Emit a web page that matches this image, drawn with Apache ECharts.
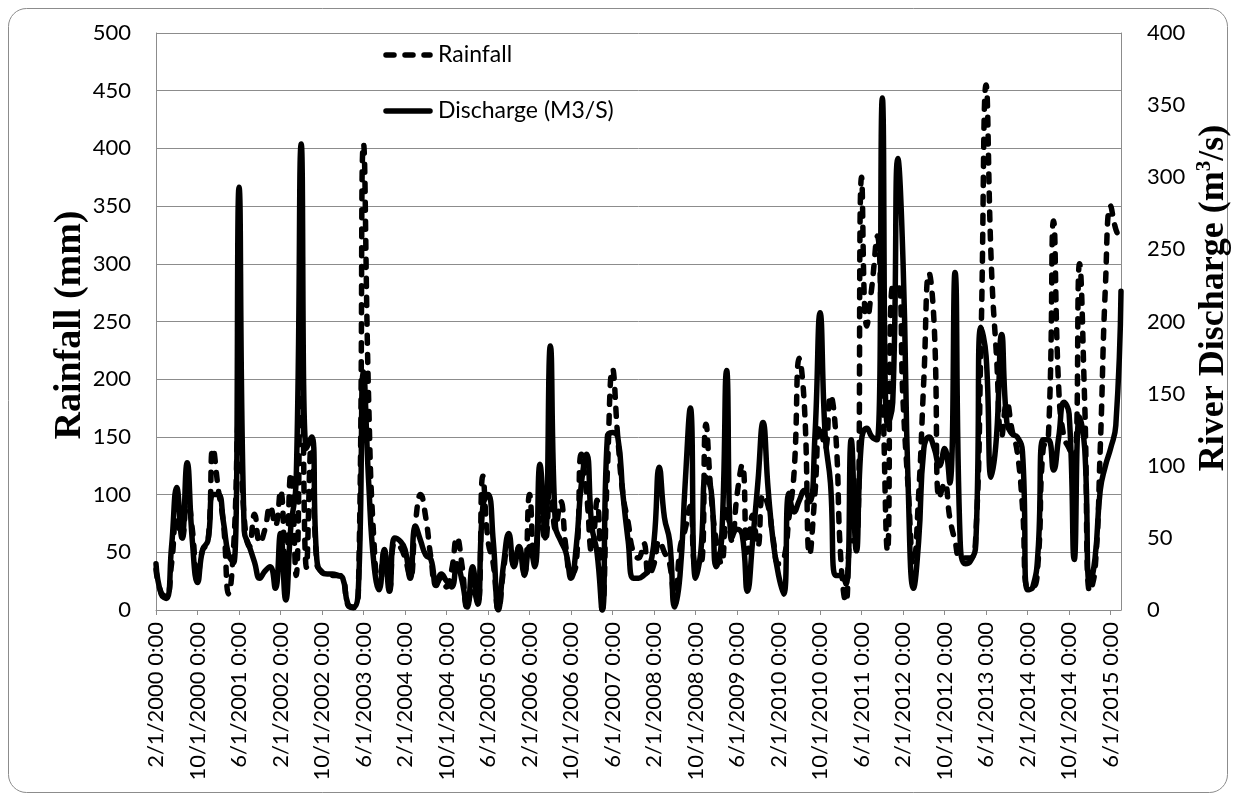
<!DOCTYPE html>
<html>
<head>
<meta charset="utf-8">
<style>
  html, body { margin: 0; padding: 0; background: #fff; }
  #chart { width: 1236px; height: 801px; }
</style>
<script src="https://cdn.jsdelivr.net/npm/echarts@6/dist/echarts.min.js"></script>
</head>
<body>
<div id="chart"></div>
<script>
// Monthly record, February 2000 to August 2015
const firstYear = 2000;
const firstMonth = 2;
const monthCount = 187;

// Monthly rainfall (mm)
const rainfall = [
  35, 15, 12, 40, 80, 62, 100, 70, 28, 52, 58, 140, 105, 75, 14, 58, 165, 80, 55, 83,
  58, 70, 90, 73, 104, 30, 119, 30, 250, 37, 149, 40, 33, 31, 30, 30, 28, 4, 2, 15,
  404, 180, 60, 20, 50, 18, 58, 55, 45, 28, 75, 100, 80, 45, 22, 28, 20, 35, 63, 38,
  2, 20, 5, 116, 60, 40, 0, 35, 60, 40, 55, 30, 100, 40, 80, 60, 120, 70, 94, 55,
  30, 40, 135, 100, 50, 95, 0, 120, 209, 150, 100, 76, 50, 45, 58, 30, 40, 60, 50, 40,
  5, 53, 70, 90, 40, 40, 161, 100, 60, 40, 90, 60, 100, 126, 50, 82, 55, 100, 90, 60,
  40, 44, 80, 120, 218, 175, 48, 100, 160, 140, 186, 154, 44, 7, 60, 60, 375, 246, 281, 324,
  200, 51, 281, 281, 180, 104, 40, 100, 200, 292, 246, 97, 110, 80, 60, 45, 45, 45, 63, 230,
  455, 300, 220, 150, 180, 156, 137, 90, 20, 20, 40, 140, 150, 337, 192, 150, 140, 130, 300, 180,
  16, 35, 140, 281, 350, 330, 320
];

// Monthly river discharge (m3/s)
const discharge = [
  32, 11, 8, 44, 85, 50, 102, 48, 19, 42, 48, 80, 80, 61, 38, 33, 293, 55, 44, 33,
  22, 27, 30, 15, 53, 7, 58, 88, 323, 112, 120, 35, 26, 25, 25, 24, 22, 4, 2, 14,
  165, 88, 32, 14, 42, 13, 50, 48, 42, 22, 58, 48, 38, 35, 17, 25, 20, 16, 32, 20,
  2, 30, 4, 72, 80, 48, 0, 32, 53, 30, 44, 25, 44, 30, 101, 50, 183, 58, 48, 40,
  22, 44, 88, 108, 58, 40, 0, 120, 123, 120, 80, 48, 22, 22, 24, 28, 48, 99, 64, 48,
  2, 24, 88, 140, 22, 40, 92, 83, 30, 48, 166, 50, 56, 52, 13, 48, 88, 130, 83, 46,
  24, 11, 81, 68, 76, 83, 75, 120, 206, 120, 88, 24, 24, 18, 118, 41, 118, 126, 120, 118,
  355, 128, 144, 313, 240, 83, 15, 48, 112, 120, 112, 100, 112, 88, 234, 48, 32, 34, 45, 196,
  176, 92, 120, 191, 130, 122, 120, 110, 14, 16, 40, 118, 118, 97, 120, 144, 136, 35, 134, 112,
  18, 36, 83, 100, 112, 128, 221
];

// Axis ranges and tick steps
const rainAxis = { min: 0, max: 500, step: 50 };
const flowAxis = { min: 0, max: 400, step: 50 };

// Series and axis captions
const rainName = 'Rainfall';
const flowName = 'Discharge (M3/S)';
const rainTitle = 'Rainfall (mm)';
const flowTitle = 'River Discharge (m{sup|3}/s)';

const months = [];
for (let k = 0; k < monthCount; k++) {
  const m0 = firstMonth - 1 + k;
  const y = firstYear + Math.floor(m0 / 12);
  const m = (m0 % 12) + 1;
  months.push(m + '/1/' + y + ' 0:00');
}

const labelFont = 'Lato, "Open Sans", sans-serif';
const titleFont = '"Liberation Serif", "DejaVu Serif", serif';
const gridGray = '#8c8c8c';
const lineW = 5.5;
const dash = [8, 11];

const chart = echarts.init(document.getElementById('chart'), null, { renderer: 'canvas' });

// Legend keys: short line samples beside their captions
const legendItems = [
  { y: 55, text: rainName, dashed: true },
  { y: 111, text: flowName, dashed: false }
];
const legendGraphics = [];
legendItems.forEach(function (it) {
  legendGraphics.push({
    type: 'line',
    silent: true,
    shape: { x1: 386, y1: it.y, x2: 430, y2: it.y },
    style: { stroke: '#000', lineWidth: lineW, lineCap: 'round', lineDash: it.dashed ? dash : null }
  });
  legendGraphics.push({
    type: 'text',
    silent: true,
    x: 438, y: it.y,
    style: { text: it.text, fill: '#000', font: '23px ' + labelFont, textAlign: 'left', textVerticalAlign: 'middle' }
  });
});

chart.setOption({
  backgroundColor: '#ffffff',
  animation: false,
  graphic: [{
    type: 'rect',
    silent: true,
    z: -1,
    shape: { x: 8.5, y: 8.5, width: 1219, height: 784, r: 18 },
    style: { fill: 'none', stroke: '#8c8c8c', lineWidth: 1 }
  }, {
    type: 'text',
    silent: true,
    x: 70, y: 325,
    rotation: Math.PI / 2,
    style: {
      text: rainTitle, fill: '#000', align: 'center', verticalAlign: 'middle',
      fontFamily: titleFont, fontWeight: 'bold', fontSize: 38
    }
  }, {
    type: 'text',
    silent: true,
    x: 1214, y: 298,
    rotation: Math.PI / 2,
    style: {
      text: flowTitle, fill: '#000', align: 'center', verticalAlign: 'middle',
      fontFamily: titleFont, fontWeight: 'bold', fontSize: 36,
      rich: {
        sup: { fontFamily: titleFont, fontWeight: 'bold', fontSize: 21, fill: '#000', verticalAlign: 'top', lineHeight: 40 }
      }
    }
  }].concat(legendGraphics),
  grid: { left: 156, right: 115, top: 33, bottom: 191, containLabel: false },
  xAxis: {
    type: 'category',
    data: months,
    boundaryGap: false,
    axisLine: { lineStyle: { color: gridGray, width: 1 } },
    axisTick: { show: true, interval: 7, length: 5, lineStyle: { color: gridGray } },
    axisLabel: {
      interval: 7,
      rotate: 90,
      margin: 12,
      fontFamily: labelFont,
      fontSize: 22,
      color: '#000'
    },
    splitLine: { show: false }
  },
  yAxis: [{
    type: 'value',
    min: rainAxis.min,
    max: rainAxis.max,
    interval: rainAxis.step,
    axisLine: { show: true, lineStyle: { color: gridGray } },
    axisTick: { show: false },
    axisLabel: { margin: 25, fontFamily: labelFont, fontSize: 22, color: '#000' },
    splitLine: { show: true, lineStyle: { color: gridGray, width: 1 } }
  }, {
    type: 'value',
    position: 'right',
    min: flowAxis.min,
    max: flowAxis.max,
    interval: flowAxis.step,
    axisLine: { show: true, lineStyle: { color: gridGray } },
    axisTick: { show: false },
    axisLabel: { margin: 26, fontFamily: labelFont, fontSize: 22, color: '#000' },
    splitLine: { show: false }
  }],
  series: [{
    name: rainName,
    type: 'line',
    yAxisIndex: 0,
    data: rainfall,
    smooth: true,
    symbol: 'none',
    lineStyle: { color: '#000', width: lineW, type: dash, cap: 'round', join: 'round' },
    itemStyle: { color: '#000' },
    z: 3
  }, {
    name: flowName,
    type: 'line',
    yAxisIndex: 1,
    data: discharge,
    smooth: true,
    symbol: 'none',
    lineStyle: { color: '#000', width: lineW, cap: 'round', join: 'round' },
    itemStyle: { color: '#000' },
    z: 4
  }]
});
</script>
</body>
</html>
